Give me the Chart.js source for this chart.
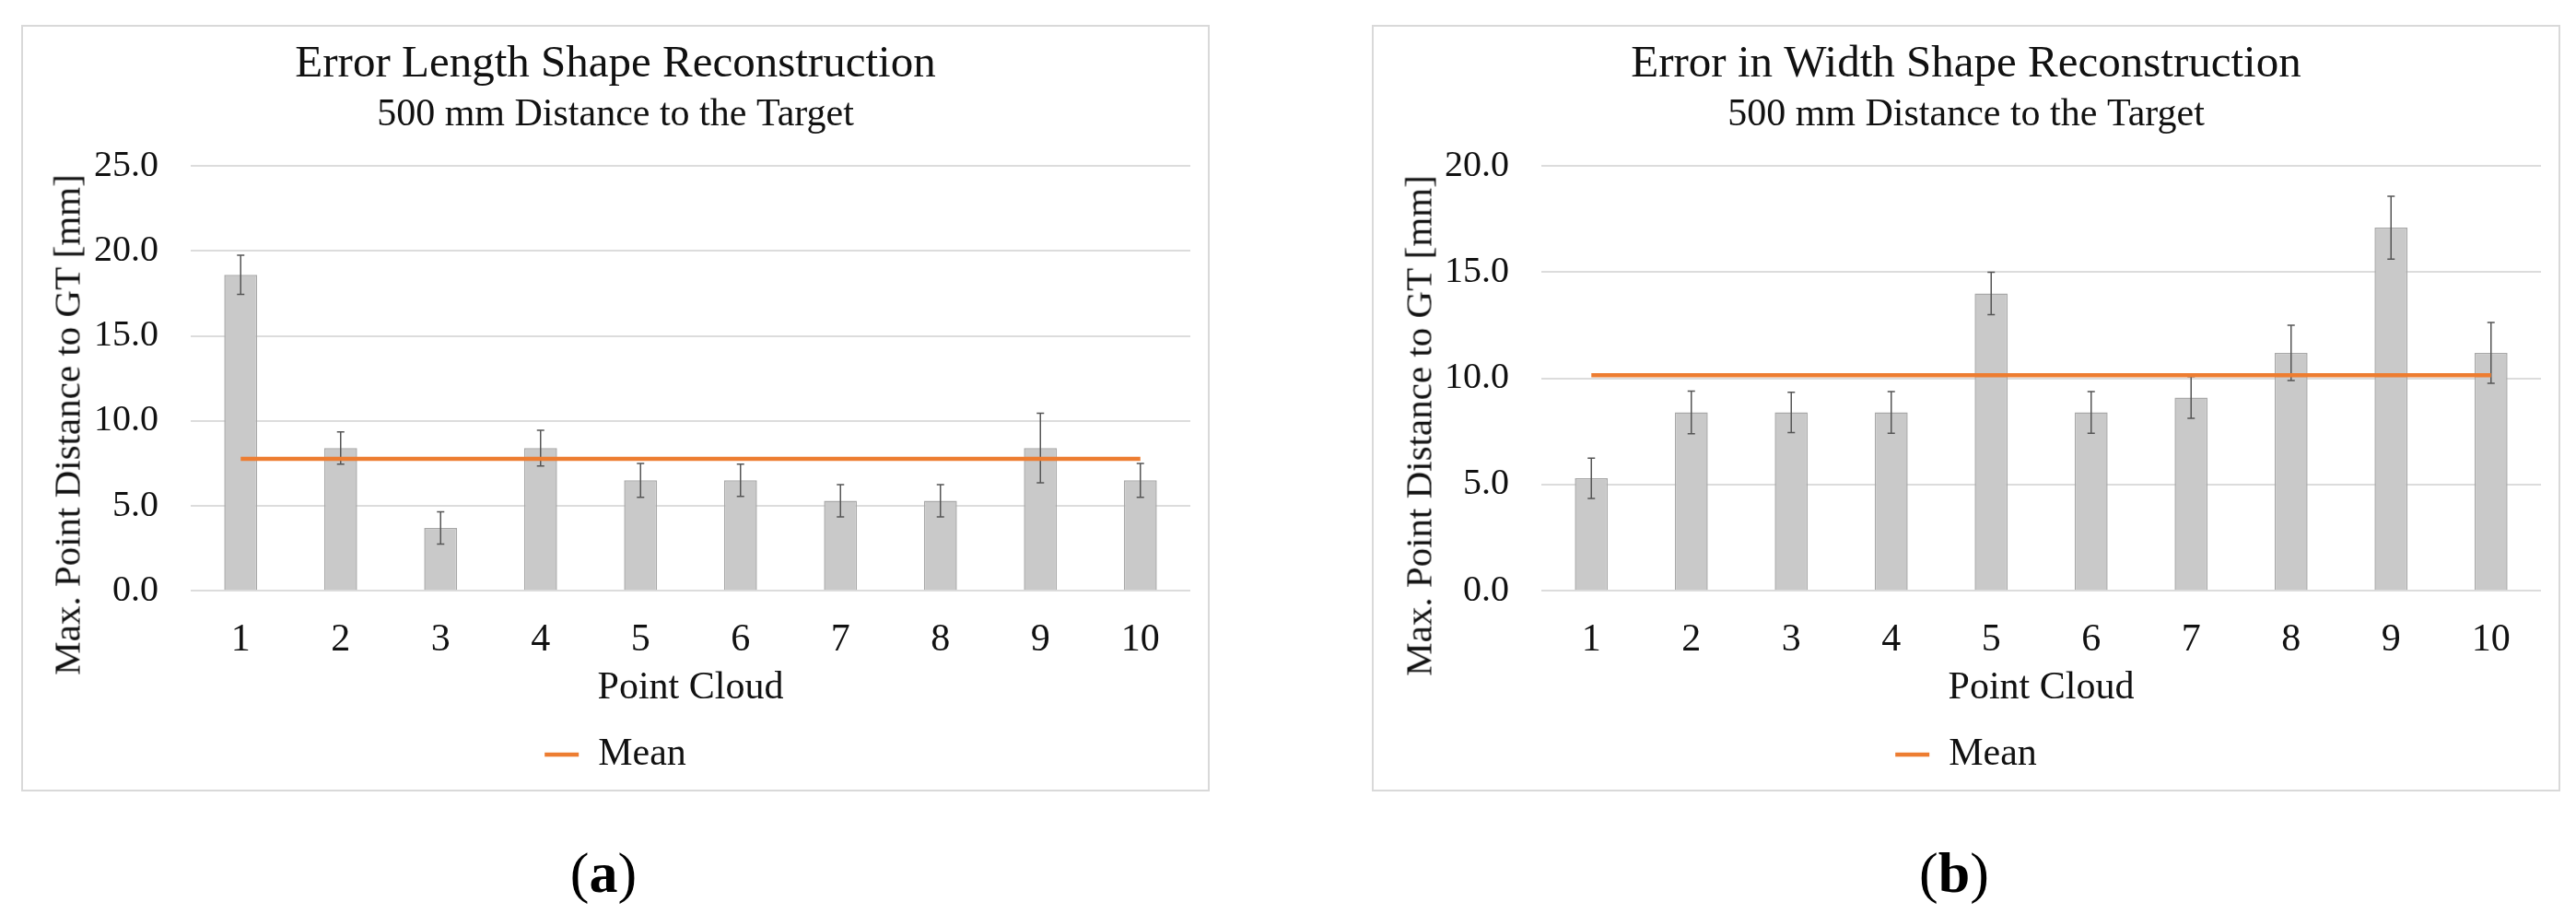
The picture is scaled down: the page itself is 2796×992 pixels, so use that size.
<!DOCTYPE html>
<html lang="en">
<head>
    <meta charset="UTF-8">
    <title>Shape Reconstruction Error</title>
    <script src="https://cdn.jsdelivr.net/npm/chart.js"></script>
    <style>
        body {
            margin: 0;
            width: 2796px;
            height: 992px;
            background: #ffffff;
            position: relative;
            overflow: hidden;
            font-family: 'Liberation Serif', 'Times New Roman', serif;
        }
        .frame {
            position: absolute;
            top: 27px;
            width: 1290px;
            height: 832px;
            box-sizing: border-box;
            border: 2px solid #d9d9d9;
        }
        .frame canvas {
            position: absolute;
            left: -2px;
            top: -2px;
        }
        .ytitle {
            position: absolute;
            font-size: 41px;
            line-height: 1;
            color: #111;
            white-space: nowrap;
            transform: translate(-50%, -50%) rotate(-90deg);
        }
        .caption {
            position: absolute;
            top: 947px;
            font-size: 62px;
            line-height: 1;
            color: #000;
            transform: translate(-50%, -50%);
        }
    </style>
</head>
<body>

    <!-- (a) length -->
    <div class="frame" style="left: 23px;">
        <canvas id="lengthChart" width="1290" height="832"></canvas>
    </div>
    <div class="ytitle" style="left: 73px; top: 461px;">Max. Point Distance to GT [mm]</div>
    <div class="caption" style="left: 655px;">(<b>a</b>)</div>

    <!-- (b) width -->
    <div class="frame" style="left: 1489px;">
        <canvas id="widthChart" width="1290" height="832"></canvas>
    </div>
    <div class="ytitle" style="left: 1540px; top: 462px;">Max. Point Distance to GT [mm]</div>
    <div class="caption" style="left: 2121px;">(<b>b</b>)</div>

    <script>
        const pointClouds = ['1', '2', '3', '4', '5', '6', '7', '8', '9', '10'];

        // (a) error in length
        const lengthValues = [18.6, 8.4, 3.7, 8.4, 6.5, 6.5, 5.3, 5.3, 8.4, 6.5];
        const lengthErrors = [1.15, 0.95, 0.95, 1.05, 1.0, 0.95, 0.95, 0.95, 2.05, 1.0];
        const lengthMean = [7.76, 7.76, 7.76, 7.76, 7.76, 7.76, 7.76, 7.76, 7.76, 7.76];
        const lengthTicks = [0, 5, 10, 15, 20, 25];

        // (b) error in width
        const widthValues = [5.3, 8.4, 8.4, 8.4, 14.0, 8.4, 9.1, 11.2, 17.1, 11.2];
        const widthErrors = [0.95, 1.0, 0.95, 0.98, 1.0, 0.98, 0.98, 1.3, 1.48, 1.43];
        const widthMean = [10.15, 10.15, 10.15, 10.15, 10.15, 10.15, 10.15, 10.15, 10.15, 10.15];
        const widthTicks = [0, 5, 10, 15, 20];

        Chart.defaults.font.family = "'Liberation Serif', 'Times New Roman', serif";
        Chart.defaults.color = '#111';

        // draws the +/- error whiskers on top of the bars, before the mean line
        const errorBars = {
            id: 'errorBars',
            afterDatasetDraw(chart, args, opts) {
                if (args.index !== 0) return;
                const ctx = chart.ctx;
                const y = chart.scales.y;
                const vals = chart.data.datasets[0].data;
                ctx.save();
                ctx.strokeStyle = '#555555';
                ctx.lineWidth = 1.5;
                args.meta.data.forEach((bar, i) => {
                    const top = y.getPixelForValue(vals[i] + opts.errors[i]);
                    const bot = y.getPixelForValue(vals[i] - opts.errors[i]);
                    ctx.beginPath();
                    ctx.moveTo(bar.x, top);
                    ctx.lineTo(bar.x, bot);
                    ctx.moveTo(bar.x - 4, top);
                    ctx.lineTo(bar.x + 4, top);
                    ctx.moveTo(bar.x - 4, bot);
                    ctx.lineTo(bar.x + 4, bot);
                    ctx.stroke();
                });
                ctx.restore();
            }
        };

        function makeChart(id, title, values, errors, mean, ticks) {
            new Chart(document.getElementById(id), {
                type: 'bar',
                data: {
                    labels: pointClouds,
                    datasets: [{
                        label: 'Max. Distance',
                        data: values,
                        backgroundColor: '#c9c9c9',
                        borderColor: '#a8a8a8',
                        borderWidth: 1.5,
                        categoryPercentage: 1,
                        barPercentage: 0.33,
                        order: 2
                    }, {
                        type: 'line',
                        label: 'Mean',
                        data: mean,
                        borderColor: '#ed7d31',
                        backgroundColor: '#ed7d31',
                        borderWidth: 4.5,
                        pointRadius: 0,
                        order: 1
                    }]
                },
                options: {
                    responsive: false,
                    devicePixelRatio: 1,
                    animation: false,
                    layout: { padding: { left: 21, right: 21, top: 0, bottom: 9 } },
                    scales: {
                        x: {
                            grid: { display: false, drawTicks: false },
                            border: { display: false },
                            ticks: { font: { size: 42 }, padding: 29, maxRotation: 0, autoSkip: false },
                            title: {
                                display: true,
                                text: 'Point Cloud',
                                font: { size: 42 },
                                padding: { top: -28, bottom: 16 }
                            }
                        },
                        y: {
                            min: ticks[0],
                            max: ticks[ticks.length - 1],
                            afterBuildTicks: (axis) => { axis.ticks = ticks.map(v => ({ value: v })); },
                            afterFit: (axis) => { axis.width = 163; },
                            grid: { color: '#dcdcdc', lineWidth: 2, drawTicks: false },
                            border: { display: false },
                            ticks: {
                                font: { size: 40 },
                                padding: 35,
                                callback: (v) => Number(v).toFixed(1)
                            }
                        }
                    },
                    plugins: {
                        title: {
                            display: true,
                            text: title,
                            font: { size: 49, weight: 'normal' },
                            padding: { top: 14, bottom: 0 }
                        },
                        subtitle: {
                            display: true,
                            text: '500 mm Distance to the Target',
                            font: { size: 42 },
                            padding: { top: 0, bottom: 30 }
                        },
                        legend: {
                            position: 'bottom',
                            labels: {
                                filter: (item) => item.text === 'Mean',
                                usePointStyle: true,
                                pointStyle: 'line',
                                pointStyleWidth: 37,
                                font: { size: 42 },
                                color: '#111'
                            }
                        },
                        tooltip: { enabled: false },
                        errorBars: { errors: errors }
                    }
                },
                plugins: [errorBars]
            });
        }

        makeChart('lengthChart', 'Error Length Shape Reconstruction', lengthValues, lengthErrors, lengthMean, lengthTicks);
        makeChart('widthChart', 'Error in Width Shape Reconstruction', widthValues, widthErrors, widthMean, widthTicks);
    </script>
</body>
</html>
